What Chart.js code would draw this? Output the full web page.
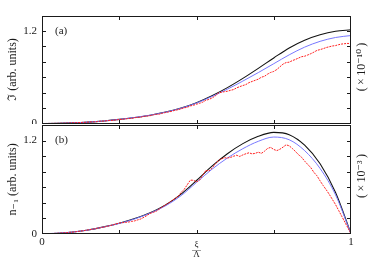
<!DOCTYPE html>
<html>
<head>
<meta charset="utf-8">
<script src="https://cdn.jsdelivr.net/npm/chart.js@4.4.0/dist/chart.umd.min.js"></script>
<style>
  html, body { margin: 0; padding: 0; background: #fff; }
  #wrap { position: relative; width: 368px; height: 261px; }
  #wrap canvas { position: absolute; left: 0; }
</style>
</head>
<body>
<div id="wrap">
  <canvas id="panelA" width="368" height="124" style="top:0"></canvas>
  <canvas id="panelB" width="368" height="137" style="top:124px"></canvas>
</div>
<script>
// sample positions (xi / Lambda)
const xCoarse = [0, 0.05, 0.1, 0.15, 0.2, 0.25, 0.3, 0.35, 0.4, 0.45, 0.5,
  0.55, 0.6, 0.65, 0.7, 0.75, 0.8, 0.85, 0.9, 0.95, 1];
const xFine = [0, 0.01, 0.02, 0.03, 0.04, 0.05, 0.06, 0.07, 0.08, 0.09,
  0.1, 0.11, 0.12, 0.13, 0.14, 0.15, 0.16, 0.17, 0.18, 0.19,
  0.2, 0.21, 0.22, 0.23, 0.24, 0.25, 0.26, 0.27, 0.28, 0.29,
  0.3, 0.31, 0.32, 0.33, 0.34, 0.35, 0.36, 0.37, 0.38, 0.39,
  0.4, 0.41, 0.42, 0.43, 0.44, 0.45, 0.46, 0.47, 0.48, 0.49,
  0.5, 0.51, 0.52, 0.53, 0.54, 0.55, 0.56, 0.57, 0.58, 0.59,
  0.6, 0.61, 0.62, 0.63, 0.64, 0.65, 0.66, 0.67, 0.68, 0.69,
  0.7, 0.71, 0.72, 0.73, 0.74, 0.75, 0.76, 0.77, 0.78, 0.79,
  0.8, 0.81, 0.82, 0.83, 0.84, 0.85, 0.86, 0.87, 0.88, 0.89,
  0.9, 0.91, 0.92, 0.93, 0.94, 0.95, 0.96, 0.97, 0.98, 0.99, 1];

// panel (a)
const aBlack = [0, 0.002, 0.008, 0.018, 0.033, 0.053, 0.078, 0.108, 0.148, 0.2, 0.27,
  0.36, 0.465, 0.585, 0.715, 0.85, 0.98, 1.08, 1.15, 1.195, 1.215];
const aBlue = [0, 0.002, 0.008, 0.018, 0.033, 0.053, 0.078, 0.108, 0.147, 0.198, 0.265,
  0.35, 0.445, 0.55, 0.66, 0.775, 0.89, 0.99, 1.065, 1.115, 1.14];
const aRed = [0, 0, 0.001, 0.001, 0.002, 0.002, 0.003, 0.004, 0.005, 0.007,
  0.009, 0.01, 0.012, 0.014, 0.015, 0.018, 0.021, 0.022, 0.026, 0.03,
  0.031, 0.036, 0.04, 0.041, 0.047, 0.052, 0.054, 0.06, 0.064, 0.066,
  0.075, 0.08, 0.083, 0.092, 0.097, 0.101, 0.112, 0.118, 0.121, 0.133,
  0.142, 0.15, 0.158, 0.172, 0.178, 0.19, 0.203, 0.21, 0.228, 0.236,
  0.25, 0.262, 0.276, 0.3, 0.312, 0.33, 0.355, 0.392, 0.405, 0.412,
  0.418, 0.43, 0.44, 0.462, 0.478, 0.492, 0.505, 0.53, 0.545, 0.56,
  0.575, 0.6, 0.612, 0.64, 0.662, 0.675, 0.7, 0.735, 0.77, 0.79,
  0.795, 0.815, 0.83, 0.848, 0.866, 0.872, 0.888, 0.905, 0.925, 0.948,
  0.958, 0.97, 0.985, 0.995, 1.005, 1.01, 1.022, 1.03, 1.035, 1.038, 1.036];

// panel (b)
const bBlack = [0, 0.006, 0.022, 0.048, 0.088, 0.135, 0.195, 0.27, 0.37, 0.51, 0.685,
  0.87, 1.03, 1.16, 1.255, 1.305, 1.275, 1.14, 0.9, 0.53, 0];
const bBlue = [0, 0.006, 0.022, 0.048, 0.087, 0.132, 0.19, 0.265, 0.36, 0.49, 0.66,
  0.83, 0.975, 1.095, 1.19, 1.245, 1.21, 1.07, 0.84, 0.5, 0];
const bRed = [0, 0, 0.001, 0.002, 0.004, 0.005, 0.008, 0.011, 0.014, 0.018,
  0.021, 0.026, 0.031, 0.036, 0.043, 0.05, 0.055, 0.063, 0.071, 0.078,
  0.086, 0.094, 0.103, 0.115, 0.126, 0.138, 0.142, 0.146, 0.15, 0.158,
  0.165, 0.178, 0.19, 0.212, 0.235, 0.262, 0.275, 0.29, 0.318, 0.345,
  0.372, 0.395, 0.425, 0.452, 0.478, 0.53, 0.57, 0.63, 0.69, 0.688,
  0.668, 0.69, 0.752, 0.815, 0.808, 0.842, 0.895, 0.938, 0.962, 0.978,
  0.975, 0.982, 0.998, 1.01, 0.995, 1.015, 1.03, 1.042, 1.028, 1.035,
  1.05, 1.035, 1.062, 1.098, 1.112, 1.085, 1.07, 1.088, 1.115, 1.145,
  1.132, 1.098, 1.06, 1.018, 0.985, 0.935, 0.892, 0.85, 0.79, 0.745,
  0.68, 0.62, 0.565, 0.505, 0.44, 0.375, 0.3, 0.225, 0.15, 0.075, 0];

const xTicks = [0.25, 0.5, 0.75];
const yTicks = [0.2, 0.4, 0.6, 0.8, 1.0, 1.2];

const serif = "'Liberation Serif', 'DejaVu Serif', serif";
const ink = '#1a1a1a';

function makeXY(xs, ys) {
  return ys.map((y, i) => { return { x: xs[i], y: y } });
}

function lineSet(xs, ys, color, width, dash, smooth) {
  return {
    data: makeXY(xs, ys),
    borderColor: color,
    borderWidth: width,
    borderDash: dash,
    pointRadius: 0,
    fill: false,
    tension: smooth ? 0.4 : 0,
    cubicInterpolationMode: smooth ? 'monotone' : 'default'
  };
}

// frame with inward ticks, panel tag and the scale factor on the right
const framePlugin = {
  id: 'frame',
  afterDatasetsDraw(chart, args, opts) {
    const ctx = chart.ctx;
    const a = chart.chartArea;
    const xs = chart.scales.x, ys = chart.scales.y;
    const l = Math.round(a.left) + 0.5, r = Math.round(a.right) - 0.5;
    const t = Math.round(a.top) + 0.5, b = Math.round(a.bottom) - 0.5;
    ctx.save();
    ctx.strokeStyle = ink;
    ctx.lineWidth = 1;
    ctx.strokeRect(l, t, r - l, b - t);
    ctx.beginPath();
    xTicks.forEach(v => {
      const px = Math.round(xs.getPixelForValue(v)) + 0.5;
      ctx.moveTo(px, b); ctx.lineTo(px, b - 3.5);
      ctx.moveTo(px, t); ctx.lineTo(px, t + 3.5);
    });
    yTicks.forEach(v => {
      const py = Math.round(ys.getPixelForValue(v)) + 0.5;
      ctx.moveTo(l, py); ctx.lineTo(l + 3.5, py);
      ctx.moveTo(r, py); ctx.lineTo(r - 3.5, py);
    });
    ctx.stroke();

    ctx.fillStyle = ink;
    ctx.font = '11px ' + serif;
    ctx.textBaseline = 'middle';
    ctx.textAlign = 'left';
    ctx.fillText(opts.tag, a.left + 13, ys.getPixelForValue(1.2));

    ctx.translate(a.right + 10.5, opts.sideY);
    ctx.rotate(-Math.PI / 2);
    ctx.textAlign = 'center';
    ctx.font = '12px ' + serif;
    ctx.fillText(opts.side, 0, 0);
    ctx.restore();
  }
};

function yLabel(v) {
  if (v === 0) return '0';
  if (Math.abs(v - 1.2) < 1e-6) return '1.2';
  return '';
}

function setupPanel(id, sets, yTitle, tag, side, sideY, isBottom) {
  const options = {
    type: 'line',
    data: { datasets: sets },
    options: {
      responsive: false,
      animation: false,
      events: [],
      layout: { padding: isBottom ? { top: 1, right: 17, left: 0, bottom: 0 } : { top: 15.5, right: 17, left: 0, bottom: 0.5 } },
      scales: {
        x: {
          type: 'linear', min: 0, max: 1,
          display: isBottom,
          grid: { display: false, drawTicks: false },
          border: { display: false },
          ticks: {
            stepSize: 0.25, autoSkip: false, maxRotation: 0, padding: 2,
            color: ink, font: { family: serif, size: 11 },
            callback: v => v === 0 ? '0' : (v === 1 ? '1' : '')
          },
          title: {
            display: true,
            text: ['ξ', '—', 'Λ'],
            color: ink,
            font: { family: serif, size: 9, lineHeight: 0.56 },
            padding: { top: 0, bottom: 4 }
          },
          afterFit: s => {
            s.height = isBottom ? 27.3 : 0;
            s.paddingLeft = 0; s.paddingRight = 0;
          }
        },
        y: {
          min: 0, max: 1.4,
          grid: { display: false, drawTicks: false },
          border: { display: false },
          ticks: {
            stepSize: 0.2, autoSkip: false, padding: 5,
            color: ink, font: { family: serif, size: 11 },
            callback: yLabel
          },
          title: {
            display: true,
            text: yTitle,
            color: ink,
            font: { family: serif, size: 12 },
            padding: { top: 6, bottom: 0 }
          },
          afterFit: s => {
            s.width = 42;
            s.paddingTop = 0; s.paddingBottom = 0;
          }
        }
      },
      plugins: {
        legend: { display: false },
        tooltip: { enabled: false },
        frame: { tag: tag, side: side, sideY: sideY }
      }
    },
    plugins: [framePlugin]
  };
  const ctx = document.getElementById(id).getContext('2d');
  return new Chart(ctx, options);
}

const red = 'rgb(255, 30, 30)';
const blue = 'rgb(120, 120, 255)';

setupPanel('panelA', [
  lineSet(xFine, aRed, red, 1, [2, 1], false),
  lineSet(xCoarse, aBlue, blue, 1, [], true),
  lineSet(xCoarse, aBlack, '#111', 1.1, [], true)
], 'ℑ (arb. units)', '(a)', '(\u2009×\u200910⁻¹⁰\u2009)', 67, false);

setupPanel('panelB', [
  lineSet(xFine, bRed, red, 1, [2, 1], false),
  lineSet(xCoarse, bBlue, blue, 1, [], true),
  lineSet(xCoarse, bBlack, '#111', 1.1, [], true)
], 'n₋₁ (arb. units)', '(b)', '(\u2009×\u200910⁻³\u2009)', 52, true);
</script>
</body>
</html>
